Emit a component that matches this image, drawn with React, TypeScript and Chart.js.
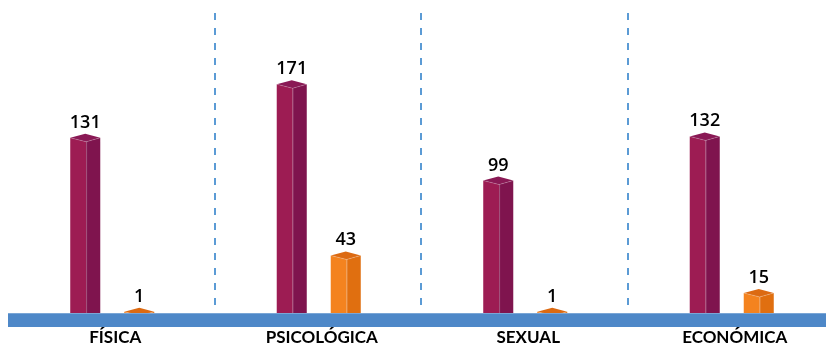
import { useEffect, useRef } from 'react';
import { Chart, registerables } from 'chart.js';

Chart.register(...registerables);

// Tipos de violencia y casos registrados por serie
const categories = ['FÍSICA', 'PSICOLÓGICA', 'SEXUAL', 'ECONÓMICA'];
const serie1 = [131, 171, 99, 132];
const serie2 = [1, 43, 1, 15];

const CANVAS_W = 835;
const CANVAS_H = 348;

// Caras de cada prisma: frontal (izquierda), lateral (derecha) y tapa
const faces = [
  { front: '#9d1c53', side: '#7f144e', top: '#8a1955', edge: 'rgba(255,255,255,0.18)' },
  { front: '#f4831f', side: '#e06f10', top: '#dc6a12', edge: 'rgba(255,255,255,0.22)' },
];

const VALUE_FONT = '"Open Sans", Lato, sans-serif';
const LABEL_FONT = 'Lato, "Open Sans", sans-serif';

const prismPlugin = {
  id: 'prism3d',
  beforeDatasetsDraw(chart: any) {
    const { ctx, chartArea, scales } = chart;
    const xs = scales.x;
    // Separadores discontinuos entre categorías
    ctx.save();
    ctx.strokeStyle = '#5b9bd5';
    ctx.lineWidth = 2;
    ctx.setLineDash([7, 8]);
    for (let i = 0; i < categories.length - 1; i++) {
      const px = Math.round((xs.getPixelForValue(i) + xs.getPixelForValue(i + 1)) / 2) - 1;
      ctx.beginPath();
      ctx.moveTo(px, 13);
      ctx.lineTo(px, chartArea.bottom - 5);
      ctx.stroke();
    }
    ctx.restore();
  },
  afterDatasetsDraw(chart: any) {
    const { ctx, chartArea, scales } = chart;
    const xs = scales.x;
    const d = 4; // desplazamiento vertical de la tapa

    ctx.save();
    chart.data.datasets.forEach((ds: any, di: number) => {
      const meta = chart.getDatasetMeta(di);
      const c = faces[di];
      meta.data.forEach((el: any) => {
        const { x, y, base, width } = el.getProps(['x', 'y', 'base', 'width'], true);
        const left = x - width / 2;
        const right = x + width / 2;
        const fx = left + width * 0.53;

        // cara frontal
        ctx.fillStyle = c.front;
        ctx.beginPath();
        ctx.moveTo(left, y);
        ctx.lineTo(fx, y + d);
        ctx.lineTo(fx, base);
        ctx.lineTo(left, base);
        ctx.closePath();
        ctx.fill();

        // cara lateral
        ctx.fillStyle = c.side;
        ctx.beginPath();
        ctx.moveTo(fx, y + d);
        ctx.lineTo(right, y);
        ctx.lineTo(right, base);
        ctx.lineTo(fx, base);
        ctx.closePath();
        ctx.fill();

        // tapa
        ctx.fillStyle = c.top;
        ctx.beginPath();
        ctx.moveTo(left, y);
        ctx.lineTo(x, y - d);
        ctx.lineTo(right, y);
        ctx.lineTo(fx, y + d);
        ctx.closePath();
        ctx.fill();

        // aristas claras
        ctx.strokeStyle = c.edge;
        ctx.lineWidth = 1;
        ctx.beginPath();
        ctx.moveTo(left, y);
        ctx.lineTo(fx, y + d);
        ctx.lineTo(right, y);
        ctx.moveTo(fx + 0.5, y + d);
        ctx.lineTo(fx + 0.5, base);
        ctx.stroke();
      });
    });

    // Suelo
    ctx.fillStyle = '#4e88c8';
    ctx.fillRect(8, chartArea.bottom, 818, 14);
    ctx.fillStyle = 'rgba(255,255,255,0.25)';
    ctx.fillRect(8, chartArea.bottom, 818, 1);

    // Etiquetas de valor
    ctx.fillStyle = '#000';
    ctx.font = `600 18px ${VALUE_FONT}`;
    ctx.textAlign = 'center';
    ctx.textBaseline = 'alphabetic';
    chart.data.datasets.forEach((ds: any, di: number) => {
      const meta = chart.getDatasetMeta(di);
      meta.data.forEach((el: any, i: number) => {
        const { x, y } = el.getProps(['x', 'y'], true);
        ctx.fillText(String(ds.data[i]), x, y - d - 6);
      });
    });

    // Etiquetas de categoría
    ctx.font = `bold 17px ${LABEL_FONT}`;
    categories.forEach((label, i) => {
      ctx.fillText(label, xs.getPixelForValue(i) + 3, 343);
    });
    ctx.restore();
  },
};

export default function App() {
  const ref = useRef<HTMLCanvasElement | null>(null);

  useEffect(() => {
    const canvas = ref.current;
    if (!canvas) return;
    const chart = new Chart(canvas, {
      type: 'bar',
      data: {
        labels: categories,
        datasets: [
          { label: 'Serie 1', data: serie1, backgroundColor: 'rgba(0,0,0,0)' },
          { label: 'Serie 2', data: serie2, backgroundColor: 'rgba(0,0,0,0)' },
        ],
      },
      options: {
        responsive: false,
        animation: false,
        devicePixelRatio: 1,
        layout: { padding: { left: 9, right: 0, top: 0, bottom: 35 } },
        datasets: {
          bar: { categoryPercentage: 0.523, barPercentage: 0.556 },
        },
        plugins: {
          legend: { display: false },
          tooltip: { enabled: false },
        },
        scales: {
          x: { display: false },
          y: { display: false, min: 0, max: 234 },
        },
      },
      plugins: [prismPlugin],
    });
    return () => chart.destroy();
  }, []);

  return (
    <div
      style={{
        position: 'absolute',
        left: 0,
        top: 0,
        width: 826,
        height: 348,
        overflow: 'hidden',
        background: '#fff',
      }}
    >
      <canvas ref={ref} width={CANVAS_W} height={CANVAS_H} style={{ display: 'block' }} />
    </div>
  );
}
